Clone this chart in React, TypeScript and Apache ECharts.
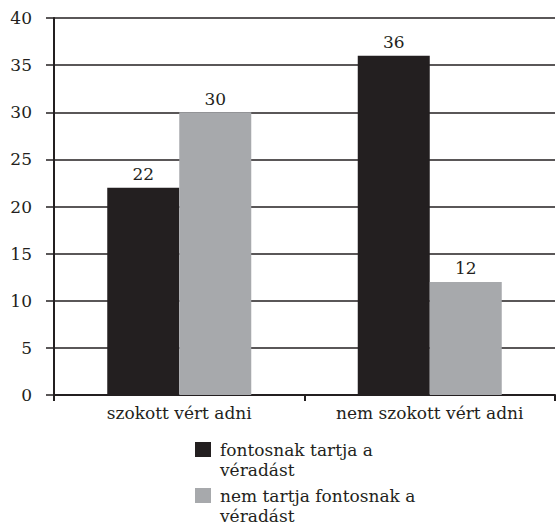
import React, { useEffect, useRef } from "react";
import * as echarts from "echarts";

const categories = ["szokott vért adni", "nem szokott vért adni"];
const seriesNames = ["fontosnak tartja a\nvéradást", "nem tartja fontosnak a\nvéradást"];
const seriesA = [22, 36];
const seriesB = [30, 12];
const colors = ["#231f20", "#a7a9ac"];
const yTicks = [0, 5, 10, 15, 20, 25, 30, 35, 40];

const FONT = "DejaVu Serif";
const FS = 17;

export default function App() {
  const ref = useRef<HTMLDivElement>(null);
  useEffect(() => {
    const chart = echarts.init(ref.current!, null, { renderer: "svg" });
    const labelStyle = {
      show: true,
      position: "top",
      distance: 5,
      color: "#231f20",
      fontFamily: FONT,
      fontSize: FS,
    };
    const legendGraphics: any[] = [];
    seriesNames.forEach((name, i) => {
      const y0 = 442 + i * 46;
      legendGraphics.push({
        type: "rect",
        shape: { x: 195, y: y0, width: 16, height: 15 },
        style: { fill: colors[i] },
      });
      legendGraphics.push({
        type: "text",
        x: 220,
        y: y0 - 2,
        style: {
          text: name,
          fill: "#231f20",
          font: `${FS}px "${FONT}"`,
          lineHeight: 20,
          textVerticalAlign: "top",
        },
      });
    });
    chart.setOption({
      animation: false,
      backgroundColor: "#ffffff",
      grid: { left: 54, top: 18, right: 3, bottom: 132, containLabel: false },
      xAxis: {
        type: "category",
        data: categories,
        axisLine: { lineStyle: { color: "#231f20", width: 2 } },
        axisTick: { show: true, length: 6, lineStyle: { color: "#231f20", width: 2 } },
        axisLabel: { color: "#231f20", fontFamily: FONT, fontSize: FS, margin: 9 },
      },
      yAxis: {
        type: "value",
        min: yTicks[0],
        max: yTicks[yTicks.length - 1],
        interval: 5,
        axisLine: { show: true, lineStyle: { color: "#231f20", width: 2 } },
        axisTick: { show: true, length: 8, lineStyle: { color: "#231f20", width: 1.5 } },
        splitLine: { show: true, lineStyle: { color: "#231f20", width: 1.5 } },
        axisLabel: { color: "#231f20", fontFamily: FONT, fontSize: FS, margin: 22 },
      },
      series: [
        {
          type: "bar",
          name: seriesNames[0],
          data: seriesA,
          barWidth: 72,
          barGap: "0%",
          itemStyle: { color: colors[0] },
          label: labelStyle,
        },
        {
          type: "bar",
          name: seriesNames[1],
          data: seriesB,
          barWidth: 72,
          barGap: "0%",
          itemStyle: { color: colors[1] },
          label: labelStyle,
        },
      ],
      graphic: legendGraphics,
    });
    return () => chart.dispose();
  }, []);
  return <div ref={ref} style={{ width: 558, height: 527, position: "absolute", left: 0, top: 0 }} />;
}
